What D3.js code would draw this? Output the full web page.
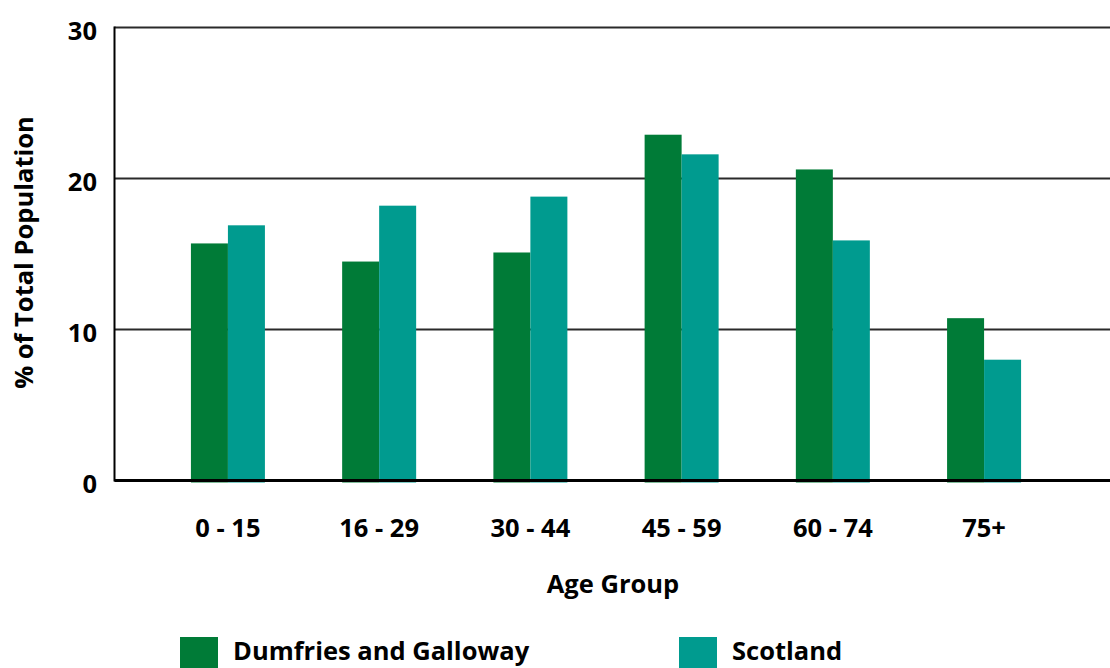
<!DOCTYPE html>
<html>
<head>
<meta charset="utf-8">
<script src="https://cdn.jsdelivr.net/npm/d3@7"></script>
<style>
  html, body { margin: 0; padding: 0; background: #fff; }
  svg { display: block; }
  text { font-family: "Open Sans", "Noto Sans", sans-serif; font-weight: bold; fill: #000; }
</style>
</head>
<body>
<svg id="chart" width="1110" height="668"></svg>
<script>
const categories = ["0 - 15", "16 - 29", "30 - 44", "45 - 59", "60 - 74", "75+"];
const seriesNames = ["Dumfries and Galloway", "Scotland"];
const dumfries = [15.7, 14.5, 15.1, 22.9, 20.6, 10.75];
const scotland = [16.9, 18.2, 18.8, 21.6, 15.9, 8.0];
const yTicks = [0, 10, 20, 30];
const colors = ["#007b37", "#009b8f"];

const svg = d3.select("#chart");
const plotLeft = 114.5, plotRight = 1110, plotTop = 27.5, plotBottom = 480.5;

const y = d3.scaleLinear().domain([0, 30]).range([plotBottom, plotTop]);
const x0 = d3.scaleBand().domain(categories).range([plotLeft, 1097.5]).paddingInner(0).paddingOuter(0.25);
const x1 = d3.scaleBand().domain(seriesNames).range([0, 74]).padding(0);

const data = categories.map((c, i) => ({ cat: c, vals: [dumfries[i], scotland[i]] }));

// gridlines
svg.append("g").selectAll("line").data(yTicks.filter(d => d > 0)).join("line")
  .attr("x1", plotLeft).attr("x2", plotRight)
  .attr("y1", d => y(d)).attr("y2", d => y(d))
  .attr("stroke", "#2a2a2a").attr("stroke-width", 2);

// bars
const groups = svg.append("g").selectAll("g").data(data).join("g")
  .attr("transform", d => `translate(${x0(d.cat) + x0.bandwidth() / 2 - 37},0)`);
groups.selectAll("rect").data(d => d.vals.map((v, j) => ({ v, s: seriesNames[j], j }))).join("rect")
  .attr("x", d => x1(d.s))
  .attr("width", x1.bandwidth())
  .attr("y", d => y(d.v))
  .attr("height", d => y(0) - y(d.v) + 2)
  .attr("fill", d => colors[d.j]);

// baseline
svg.append("line").attr("x1", plotLeft).attr("x2", plotRight).attr("y1", y(0)).attr("y2", y(0))
  .attr("stroke", "#000").attr("stroke-width", 3);
// y axis line
svg.append("line").attr("x1", plotLeft).attr("x2", plotLeft).attr("y1", plotTop - 1).attr("y2", plotBottom + 1)
  .attr("stroke", "#000").attr("stroke-width", 2);

// y tick labels
svg.append("g").selectAll("text").data(yTicks).join("text")
  .attr("x", 97).attr("y", d => y(d) + 12)
  .attr("text-anchor", "end").attr("font-size", 25.5)
  .text(d => d);

// x tick labels
svg.append("g").selectAll("text").data(categories).join("text")
  .attr("x", d => x0(d) + x0.bandwidth() / 2).attr("y", 537)
  .attr("text-anchor", "middle").attr("font-size", 25.5)
  .text(d => d);

// axis titles
svg.append("text").attr("x", 613).attr("y", 593).attr("text-anchor", "middle")
  .attr("font-size", 25.5).text("Age Group");
svg.append("text").attr("transform", "translate(32.5,252.5) rotate(-90)")
  .attr("text-anchor", "middle").attr("font-size", 25.5).text("% of Total Population");

// legend
const legendX = [180, 679];
const lg = svg.append("g").selectAll("g").data(seriesNames).join("g")
  .attr("transform", (d, i) => `translate(${legendX[i]},637)`);
lg.append("rect").attr("width", 38).attr("height", 38).attr("fill", (d, i) => colors[i]);
lg.append("text").attr("x", 53).attr("y", 23).attr("font-size", 25.5).text(d => d);
</script>
</body>
</html>
